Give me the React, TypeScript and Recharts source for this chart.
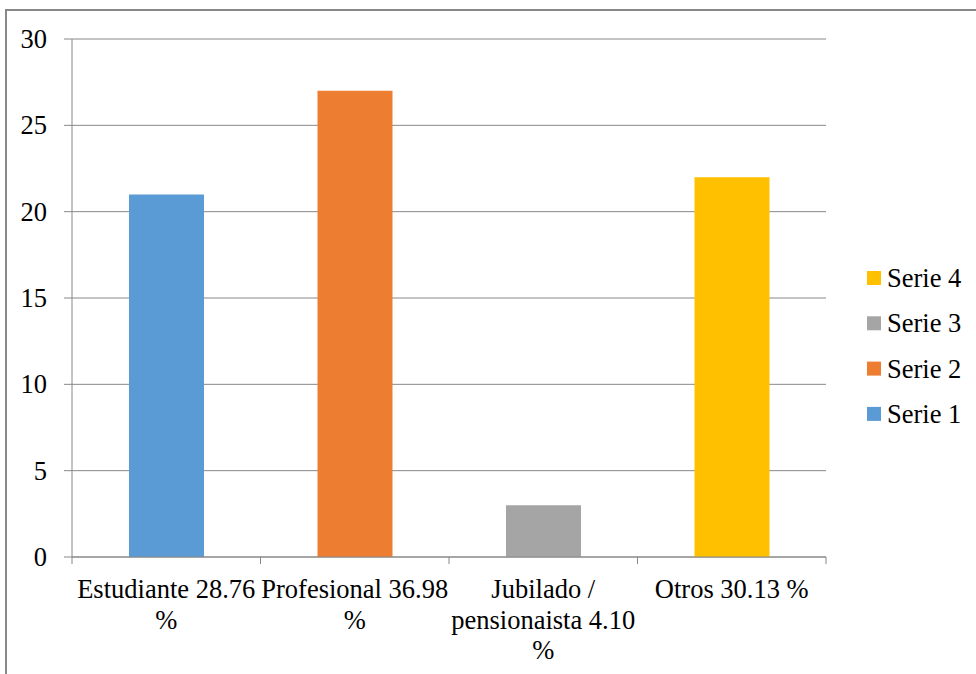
import React from "react";
import {
  BarChart,
  Bar,
  XAxis,
  YAxis,
  CartesianGrid,
  Legend,
} from "recharts";

const categories = [
  "Estudiante 28.76 %",
  "Profesional 36.98 %",
  "Jubilado / pensionaista 4.10 %",
  "Otros 30.13 %",
];

// how each category label wraps under the axis
const categoryLines = [
  ["Estudiante 28.76", "%"],
  ["Profesional 36.98", "%"],
  ["Jubilado /", "pensionaista 4.10", "%"],
  ["Otros 30.13 %"],
];

const seriesNames = ["Serie 1", "Serie 2", "Serie 3", "Serie 4"];
const seriesValues = [21, 27, 3, 22];
const seriesColors = ["#5B9BD5", "#ED7D31", "#A5A5A5", "#FFC000"];
const yTicks = [0, 5, 10, 15, 20, 25, 30];

const data = categories.map((cat, i) => {
  const row: Record<string, string | number> = { category: cat };
  row[seriesNames[i]] = seriesValues[i];
  return row;
});

const FONT = '"Liberation Serif", "Times New Roman", serif';
const LINE = "#888888";

const CategoryTick = (props: any) => {
  const { x, y, payload, index } = props;
  const i = payload?.index ?? index;
  const lines = categoryLines[i] || [String(payload.value)];
  const half = payload?.offset || 94.25;
  return (
    <g>
      <line x1={x - half} x2={x - half} y1={y} y2={y + 7} stroke={LINE} />
      {i === categories.length - 1 && (
        <line x1={x + half} x2={x + half} y1={y} y2={y + 7} stroke={LINE} />
      )}
      <text
        x={x}
        y={y}
        textAnchor="middle"
        fontFamily={FONT}
        fontSize={26.5}
        fill="#000"
      >
        {lines.map((l, k) => (
          <tspan key={k} x={x} y={y + 41 + k * 30.5}>
            {l}
          </tspan>
        ))}
      </text>
    </g>
  );
};

const ValueTick = (props: any) => {
  const { x, y, payload } = props;
  return (
    <g>
      <text
        x={x}
        y={y + 9}
        textAnchor="end"
        fontFamily={FONT}
        fontSize={26.5}
        fill="#000"
      >
        <tspan x={x} y={y + 9}>
          {String(payload.value)}
        </tspan>
      </text>
    </g>
  );
};

const LegendContent = (props: any) => {
  const items = [...(props.payload || [])].reverse();
  return (
    <svg width={110} height={182} style={{ display: "block" }}>
      {items.map((item: any, k: number) => (
        <g key={item.value}>
          <rect x={0} y={k * 45.3 + 16} width={14} height={14} fill={item.color} />
          <text
            x={20}
            y={k * 45.3 + 32}
            fontFamily={FONT}
            fontSize={26.5}
            fill="#000"
          >
            {item.value}
          </text>
        </g>
      ))}
    </svg>
  );
};

export default function App() {
  return (
    <div
      style={{
        position: "fixed",
        left: 0,
        top: 0,
        width: 976,
        height: 674,
        overflow: "hidden",
        background: "#fff",
        fontFamily: FONT,
      }}
    >
      <div
        style={{
          position: "absolute",
          left: 5,
          top: 9,
          width: 1200,
          height: 1000,
          borderLeft: "2px solid #888",
          borderTop: "2px solid #888",
          boxSizing: "border-box",
        }}
      />
      <div style={{ position: "absolute", left: 0, top: 0 }}>
        <BarChart
          width={976}
          height={674}
          data={data}
          margin={{ top: 39, right: 150, bottom: 0, left: 0 }}
        >
          <CartesianGrid vertical={false} stroke={LINE} strokeWidth={1} />
          <XAxis
            dataKey="category"
            height={117}
            tickSize={0}
            tickMargin={0}
            tickLine={false}
            axisLine={{ stroke: LINE }}
            interval={0}
            tick={<CategoryTick />}
          />
          <YAxis
            width={72}
            domain={[0, 30]}
            ticks={yTicks}
            tickSize={8}
            tickMargin={17}
            axisLine={{ stroke: LINE }}
            tickLine={{ stroke: LINE }}
            tick={<ValueTick />}
          />
          <Legend
            layout="vertical"
            align="center"
            verticalAlign="middle"
            content={<LegendContent />}
            wrapperStyle={{ left: 867, top: 255, width: 110 }}
          />
          {seriesNames.map((name, i) => (
            <Bar
              key={name}
              dataKey={name}
              name={name}
              stackId="a"
              fill={seriesColors[i]}
              barSize={75}
              isAnimationActive={false}
            />
          ))}
        </BarChart>
      </div>
    </div>
  );
}
